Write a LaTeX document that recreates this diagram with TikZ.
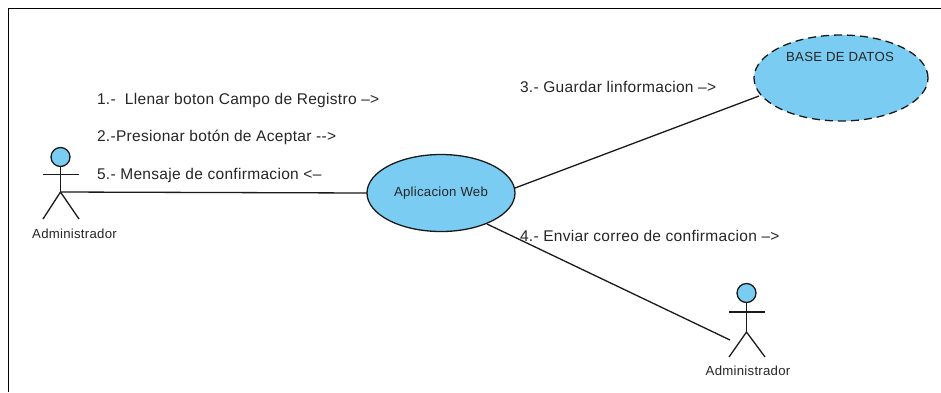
\documentclass[tikz,border=0pt]{standalone}
\usepackage{fontspec}
\setmainfont{Liberation Sans}
\usetikzlibrary{shapes.geometric}
\definecolor{ucblue}{HTML}{7ACCF2}
\definecolor{inkline}{HTML}{1A1A1A}
\begin{document}
\begin{tikzpicture}[x=1pt,y=-1pt,
  every node/.style={inner sep=0pt,outer sep=0pt},
  usecase/.style={ellipse,draw=inkline,fill=ucblue,line width=1.3pt},
  msg/.style={anchor=west,font=\fontsize{15.5}{17}\selectfont\addfontfeature{LetterSpace=2},text=black!85},
  small/.style={font=\fontsize{13.2}{15}\selectfont\addfontfeature{LetterSpace=2},text=black!85},
  stick/.style={draw=inkline,line width=1.3pt},
  conn/.style={draw=inkline,line width=1.3pt}]
\useasboundingbox (0,0) rectangle (941,392);
\fill[white] (0,0) rectangle (941,392);
\draw[black,line width=1.3pt] (8.5,392) -- (8.5,8.5) -- (941,8.5);
% use cases
\node[usecase,minimum width=148pt,minimum height=77pt] (app) at (441,193) {};
\node[small] (applabel) at (441,193) {Aplicacion Web};
\node[usecase,dash pattern=on 8pt off 5pt,minimum width=174pt,minimum height=86pt] (bd) at (841,78) {};
\node[small] (bdlabel) at (840,57) {BASE DE DATOS};
% actor 1
\node[circle,draw=inkline,fill=ucblue,line width=1.3pt,minimum size=19pt] (head1) at (60.5,157) {};
\coordinate (hip1) at (60.5,192);
\draw[stick] (head1) -- (hip1);
\draw[stick] (43,174.7) -- (79,174.7);
\draw[stick] (43,219) -- (hip1) -- (79,219);
\node[small] (actor1) at (74.5,234) {Administrador};
% actor 2
\node[circle,draw=inkline,fill=ucblue,line width=1.3pt,minimum size=19pt] (head2) at (746.5,293) {};
\coordinate (hip2) at (746.5,332);
\draw[stick] (head2) -- (hip2);
\draw[stick] (729,312) -- (765,312);
\draw[stick] (729,357) -- (hip2) -- (765,357);
\node[small] (actor2) at (748,371) {Administrador};
% connectors
\coordinate (appr) at (515,188);
\coordinate (appb) at (487,224);
\coordinate (bdl) at (759,96);
\coordinate (end2) at (730,340);
\draw[conn] (hip1) -- (app.west);
\draw[conn] (appr) -- (bdl);
\draw[conn] (appb) -- (end2);
% messages
\node[msg] (m1) at (97,100.5) {1.-\ \ Llenar boton Campo de Registro --{>}};
\node[msg] (m2) at (97,137.5) {2.-Presionar botón de Aceptar -{}->};
\node[msg] (m5) at (97,175.5) {5.- Mensaje de confirmacion <--};
\node[msg] (m3) at (520,87) {3.- Guardar linformacion --{>}};
\node[msg] (m4) at (520,236) {4.- Enviar correo de confirmacion --{>}};
\end{tikzpicture}
\end{document}
